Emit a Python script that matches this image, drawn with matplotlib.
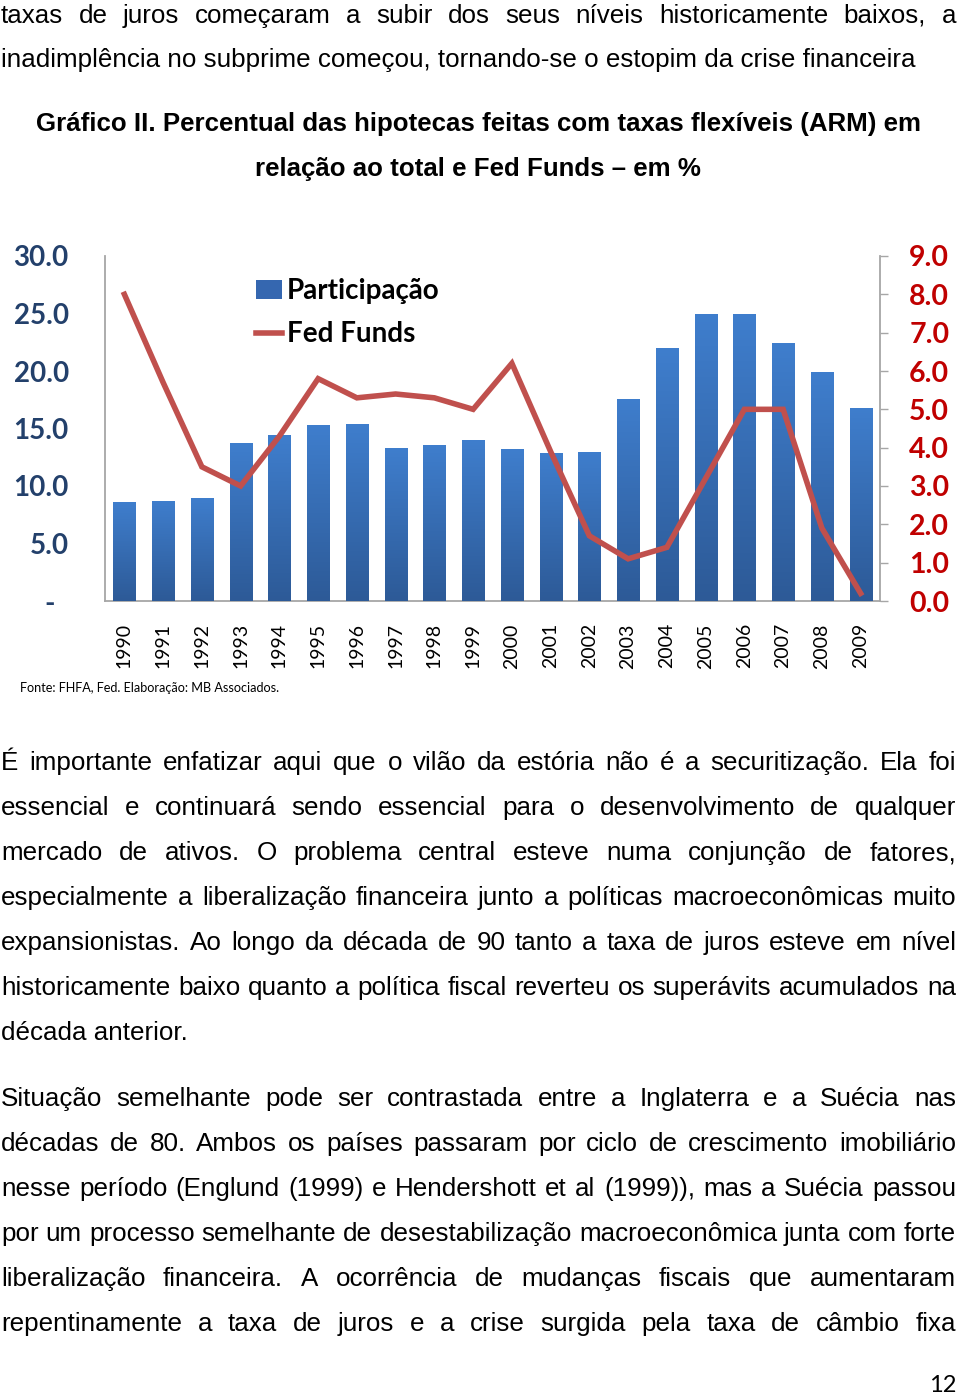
import matplotlib
matplotlib.use("Agg")
import matplotlib.pyplot as plt
import numpy as np
from matplotlib.patches import Patch
from matplotlib.lines import Line2D
from matplotlib.colors import LinearSegmentedColormap

# ---------------- data ----------------
years = [str(y) for y in range(1990, 2010)]
participacao = [8.6, 8.7, 9.0, 13.7, 14.4, 15.3, 15.4, 13.3, 13.6, 14.0,
                13.2, 12.9, 13.0, 17.6, 22.0, 25.0, 25.0, 22.4, 19.9, 16.8]
fed_funds = [8.0, 5.7, 3.5, 3.0, 4.3, 5.8, 5.3, 5.4, 5.3, 5.0,
             6.2, 3.9, 1.7, 1.1, 1.4, 3.2, 5.0, 5.0, 1.9, 0.2]
left_ticks = [0, 5, 10, 15, 20, 25, 30]
left_labels = ["-  ", "5.0", "10.0", "15.0", "20.0", "25.0", "30.0"]
right_ticks = list(range(10))
right_labels = [f"{v:.1f}" for v in right_ticks]

title_lines = ["Gráfico II. Percentual das hipotecas feitas com taxas flexíveis (ARM) em",
               "relação ao total e Fed Funds – em %"]
source_text = "Fonte: FHFA, Fed. Elaboração: MB Associados."

top_lines = [("taxas de juros começaram a subir dos seus níveis historicamente baixos, a", 23, True),
             ("inadimplência no subprime começou, tornando-se o estopim da crise financeira", 67, False)]
body_lines = [
    ("É importante enfatizar aqui que o vilão da estória não é a securitização. Ela foi", 770, True),
    ("essencial e continuará sendo essencial para o desenvolvimento de qualquer", 815, True),
    ("mercado de ativos. O problema central esteve numa conjunção de fatores,", 860, True),
    ("especialmente a liberalização financeira junto a políticas macroeconômicas muito", 905, True),
    ("expansionistas. Ao longo da década de 90 tanto a taxa de juros esteve em nível", 950, True),
    ("historicamente baixo quanto a política fiscal reverteu os superávits acumulados na", 995, True),
    ("década anterior.", 1040, False),
    ("Situação semelhante pode ser contrastada entre a Inglaterra e a Suécia nas", 1106, True),
    ("décadas de 80. Ambos os países passaram por ciclo de crescimento imobiliário", 1151, True),
    ("nesse período (Englund (1999) e Hendershott et al (1999)), mas a Suécia passou", 1196, True),
    ("por um processo semelhante de desestabilização macroeconômica junta com forte", 1241, True),
    ("liberalização financeira. A ocorrência de mudanças fiscais que aumentaram", 1286, True),
    ("repentinamente a taxa de juros e a crise surgida pela taxa de câmbio fixa", 1331, True),
]

W, H = 960, 1395
fig = plt.figure(figsize=(W / 100, H / 100), dpi=100)
fig.patch.set_facecolor("white")
renderer = fig.canvas.get_renderer()

BODY_FONT = "Liberation Sans"
CHART_FONT = "Lato"

def fx(x):
    return x / W

def fy(y):
    return 1 - y / H

def text_width(s, **kw):
    t = fig.text(0, 0, s, **kw)
    w = t.get_window_extent(renderer).width
    t.remove()
    return w

def fit_size(s, target, **kw):
    w = text_width(s, fontsize=20, **kw)
    return 20 * target / w

body_size = fit_size("inadimplência no subprime começou, tornando-se o estopim da crise financeira",
                     911, family=BODY_FONT)
title_size = fit_size(title_lines[0], 886, family=BODY_FONT, weight="bold")

def draw_line(s, y, justify, x0=1, x1=956):
    kw = dict(family=BODY_FONT, fontsize=body_size, color="black", va="baseline")
    if not justify:
        fig.text(fx(x0), fy(y), s, ha="left", **kw)
        return
    words = s.split(" ")
    widths = [text_width(w, **kw) for w in words]
    gap = (x1 - x0 - sum(widths)) / (len(words) - 1)
    x = x0
    for w, wd in zip(words, widths):
        fig.text(fx(x), fy(y), w, ha="left", **kw)
        x += wd + gap

for s, y, j in top_lines + body_lines:
    draw_line(s, y, j)

fig.text(fx(478), fy(131), title_lines[0], ha="center", va="baseline",
         family=BODY_FONT, weight="bold", fontsize=title_size)
fig.text(fx(478), fy(176), title_lines[1], ha="center", va="baseline",
         family=BODY_FONT, weight="bold", fontsize=title_size)

src_size = fit_size(source_text, 260, family=CHART_FONT)
fig.text(fx(20), fy(692), source_text, ha="left", va="baseline",
         family=CHART_FONT, fontsize=src_size, color="black")
fig.text(fx(956), fy(1392), "12", ha="right", va="baseline",
         family=CHART_FONT, fontsize=17, color="black")

# ---------------- chart ----------------
ax_l, ax_r, ax_t, ax_b = 105, 880, 256, 601
ax = fig.add_axes([fx(ax_l), fy(ax_b), (ax_r - ax_l) / W, (ax_b - ax_t) / H])
x = np.arange(len(years))
bars = ax.bar(x, participacao, width=0.57, color="#3567B0", zorder=2)

cmap = LinearSegmentedColormap.from_list("g", ["#2D5A97", "#3F7ECD"])
grad = np.linspace(0, 1, 256).reshape(-1, 1)
for p in bars.patches:
    im = ax.imshow(grad, extent=(p.get_x(), p.get_x() + p.get_width(), 0, p.get_height()),
                   origin="lower", aspect="auto", cmap=cmap, zorder=3)
    im.set_clip_path(p)

ax.set_xlim(-0.5, len(years) - 0.5)
ax.set_ylim(0, 30)
ax.set_xticks(x)
ax.set_xticklabels(years, rotation=90, family=CHART_FONT, fontsize=14, color="black")
ax.tick_params(axis="x", length=0, pad=16)
ax.set_yticks(left_ticks)
ax.set_yticklabels(left_labels, family=CHART_FONT, weight="bold", fontsize=20, color="#23406B")
ax.tick_params(axis="y", length=0, pad=26)
for side in ["top", "right"]:
    ax.spines[side].set_visible(False)
for side in ["left", "bottom"]:
    ax.spines[side].set_color("#A6A6A6")
    ax.spines[side].set_linewidth(1.3)
ax.set_facecolor("none")

ax2 = ax.twinx()
ax2.plot(x, fed_funds, color="#C0504D", lw=4.0, solid_joinstyle="miter", zorder=4)
ax2.set_ylim(0, 9)
ax2.set_yticks(right_ticks)
ax2.set_yticklabels(right_labels, family=CHART_FONT, weight="bold", fontsize=20.5, color="#C00000")
ax2.tick_params(axis="y", length=6, width=1, color="#A6A6A6", direction="out", pad=15)
for side in ["top", "left", "bottom"]:
    ax2.spines[side].set_visible(False)
ax2.spines["right"].set_color("#A6A6A6")
ax2.spines["right"].set_linewidth(1.3)

handles = [Patch(facecolor="#3567B0", edgecolor="none"),
           Line2D([0], [0], color="#C0504D", lw=4.0)]
leg = ax2.legend(handles, ["Participação", "Fed Funds"], loc="upper left",
                 bbox_to_anchor=((256 - ax_l) / (ax_r - ax_l), (ax_b - 278) / (ax_b - ax_t)),
                 frameon=False, borderpad=0, borderaxespad=0, handlelength=0.95,
                 handleheight=0.65, handletextpad=0.15, labelspacing=0.62,
                 prop=dict(family=CHART_FONT, weight="bold", size=20))

fig.savefig("out.png", dpi=100, facecolor="white")
